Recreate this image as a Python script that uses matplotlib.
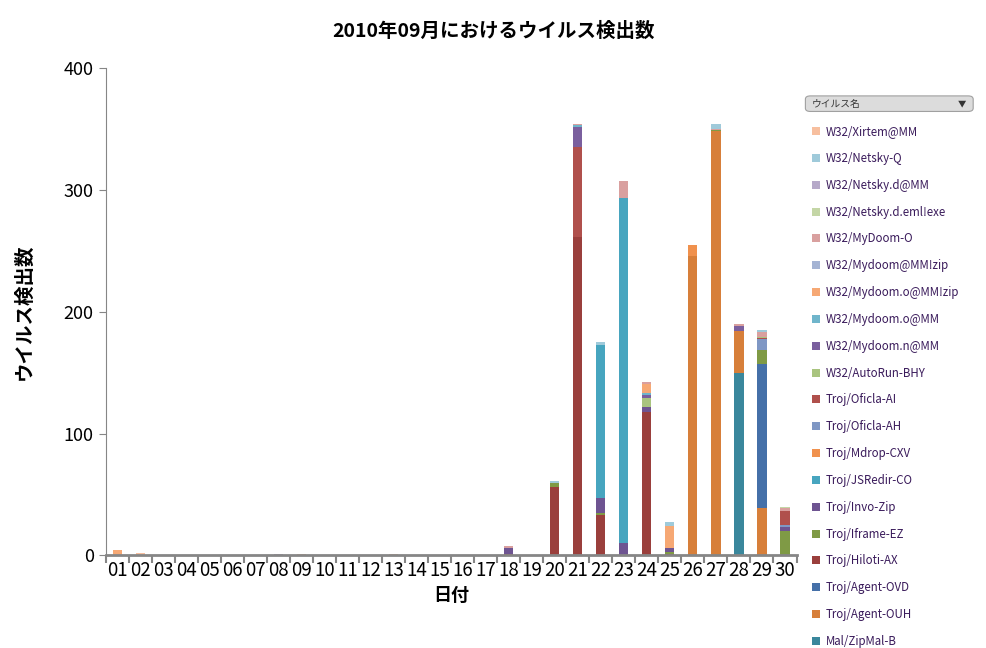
import matplotlib
matplotlib.use("Agg")
import matplotlib.pyplot as plt
from matplotlib.patches import FancyBboxPatch
import numpy as np

plt.rcParams["font.family"] = ["Noto Sans CJK JP"]

days = [f"{d:02d}" for d in range(1, 31)]
series = ["Mal/ZipMal-B", "Troj/Agent-OUH", "Troj/Agent-OVD", "Troj/Hiloti-AX", "Troj/Iframe-EZ",
          "Troj/Invo-Zip", "Troj/JSRedir-CO", "Troj/Mdrop-CXV", "Troj/Oficla-AH", "Troj/Oficla-AI",
          "W32/AutoRun-BHY", "W32/Mydoom.n@MM", "W32/Mydoom.o@MM", "W32/Mydoom.o@MM!zip",
          "W32/Mydoom@MM!zip", "W32/MyDoom-O", "W32/Netsky.d.eml!exe", "W32/Netsky.d@MM",
          "W32/Netsky-Q", "W32/Xirtem@MM"]
colors = ["#3a879c", "#d77f3a", "#4570a8", "#9a3f3c", "#7f9a45", "#6e5491", "#47a5bf", "#f0914d",
          "#7f97c4", "#b0504c", "#a9c47f", "#7a5f9e", "#6fb5cb", "#f6a874", "#a4b3d3", "#d9a09f",
          "#c4d6a6", "#b6a9c9", "#9fcada", "#f7bf9f"]

def z():
    return [0] * 30

data = {s: z() for s in series}
def put(name, day, val):
    data[name][day - 1] = val

put("W32/Mydoom.o@MM!zip", 1, 4); put("W32/Xirtem@MM", 2, 2); put("W32/Netsky.d@MM", 8, 1)
put("W32/Xirtem@MM", 9, 1.5); put("W32/Xirtem@MM", 13, 1)
put("Troj/Hiloti-AX", 18, 1); put("Troj/Invo-Zip", 18, 5); put("W32/MyDoom-O", 18, 2)
put("Troj/Hiloti-AX", 20, 56); put("Troj/Iframe-EZ", 20, 3); put("W32/Netsky-Q", 20, 2)
put("Troj/Hiloti-AX", 21, 261); put("Troj/Oficla-AI", 21, 74); put("W32/Mydoom.n@MM", 21, 17)
put("W32/Mydoom.o@MM", 21, 1); put("W32/MyDoom-O", 21, 1)
put("Troj/Hiloti-AX", 22, 33); put("Troj/Iframe-EZ", 22, 2); put("Troj/Invo-Zip", 22, 12)
put("Troj/JSRedir-CO", 22, 126); put("W32/Netsky-Q", 22, 2)
put("Troj/Invo-Zip", 23, 10); put("Troj/JSRedir-CO", 23, 283); put("W32/MyDoom-O", 23, 14)
put("Troj/Hiloti-AX", 24, 118); put("Troj/Invo-Zip", 24, 4); put("W32/AutoRun-BHY", 24, 7)
put("W32/Mydoom.n@MM", 24, 2.5); put("W32/Mydoom.o@MM", 24, 1.5); put("W32/Mydoom.o@MM!zip", 24, 7.5)
put("W32/MyDoom-O", 24, 1.5)
put("Troj/Hiloti-AX", 25, 1); put("Troj/Iframe-EZ", 25, 2); put("Troj/Invo-Zip", 25, 3)
put("W32/Mydoom.o@MM!zip", 25, 18); put("W32/Netsky-Q", 25, 3)
put("Troj/Agent-OUH", 26, 246); put("Troj/Mdrop-CXV", 26, 9)
put("Troj/Iframe-EZ", 27, 1); put("Troj/Agent-OUH", 27, 348); put("W32/MyDoom-O", 27, 1); put("W32/Netsky-Q", 27, 4)
put("Mal/ZipMal-B", 28, 150); put("Troj/Agent-OUH", 28, 34); put("W32/Mydoom.n@MM", 28, 4); put("W32/MyDoom-O", 28, 1.5)
put("Troj/Iframe-EZ", 29, 11.5); put("Troj/Agent-OUH", 29, 39); put("Troj/Agent-OVD", 29, 118)
put("W32/AutoRun-BHY", 29, 1); put("Troj/Oficla-AH", 29, 9); put("Troj/Oficla-AI", 29, 1)
put("W32/MyDoom-O", 29, 4); put("W32/Netsky-Q", 29, 1.5)
put("Troj/Iframe-EZ", 30, 20); put("Troj/Invo-Zip", 30, 3); put("Troj/Oficla-AH", 30, 1.5)
put("Troj/Oficla-AI", 30, 12); put("W32/Netsky.d.eml!exe", 30, 1); put("W32/MyDoom-O", 30, 2.5)

fig = plt.figure(figsize=(9.87, 6.48), dpi=100)
ax = fig.add_axes([0.107, 0.143, 0.700, 0.752])
x = np.arange(30)
bottom = np.zeros(30)
handles = []
for s, c in zip(series, colors):
    v = np.array(data[s], dtype=float)
    h = ax.bar(x, v, 0.4, bottom=bottom, color=c, label=s)
    handles.append(h)
    bottom += v

ax.set_xlim(-0.5, 29.5)
ax.set_ylim(0, 400)
ax.set_yticks([0, 100, 200, 300, 400])
ax.tick_params(axis="y", labelsize=13, color="#868686", length=5)
ax.set_xticks(x)
ax.set_xticklabels(days, fontsize=13.5)
ax.set_xticks(np.arange(-0.5, 30, 1), minor=True)
ax.tick_params(axis="x", which="major", length=0, pad=3)
ax.tick_params(axis="x", which="minor", length=6, color="#868686", width=1.5)
for sp in ["top", "right"]:
    ax.spines[sp].set_visible(False)
for sp in ["left", "bottom"]:
    ax.spines[sp].set_color("#868686")
ax.spines["bottom"].set_linewidth(2)
ax.set_xlabel("日付", fontsize=13, fontweight="bold")
ax.set_ylabel("ウイルス検出数", fontsize=14, fontweight="bold", labelpad=22)
fig.text(0.5, 0.952, "2010年09月におけるウイルス検出数", ha="center", va="center", fontsize=14, fontweight="bold")

hdr = FancyBboxPatch((0.818, 0.83), 0.166, 0.02, boxstyle="round,pad=0.002,rounding_size=0.005",
                     transform=fig.transFigure, facecolor="#dcdcdc", edgecolor="#a0a0a0", lw=0.8)
fig.patches.append(hdr)
fig.text(0.822, 0.840, "ウイルス名", fontsize=7, va="center", color="#333333")
fig.text(0.975, 0.840, "▼", fontsize=6, va="center", ha="center", color="#333333")

leg = fig.legend(handles[::-1], series[::-1], loc="upper left", bbox_to_anchor=(0.812, 0.823),
                 frameon=False, fontsize=8.3, handlelength=0.7, handleheight=0.7,
                 labelspacing=1.2, handletextpad=0.5)
for t in leg.get_texts():
    t.set_color("#3a1b5b")

fig.savefig("out.png", dpi=100)
